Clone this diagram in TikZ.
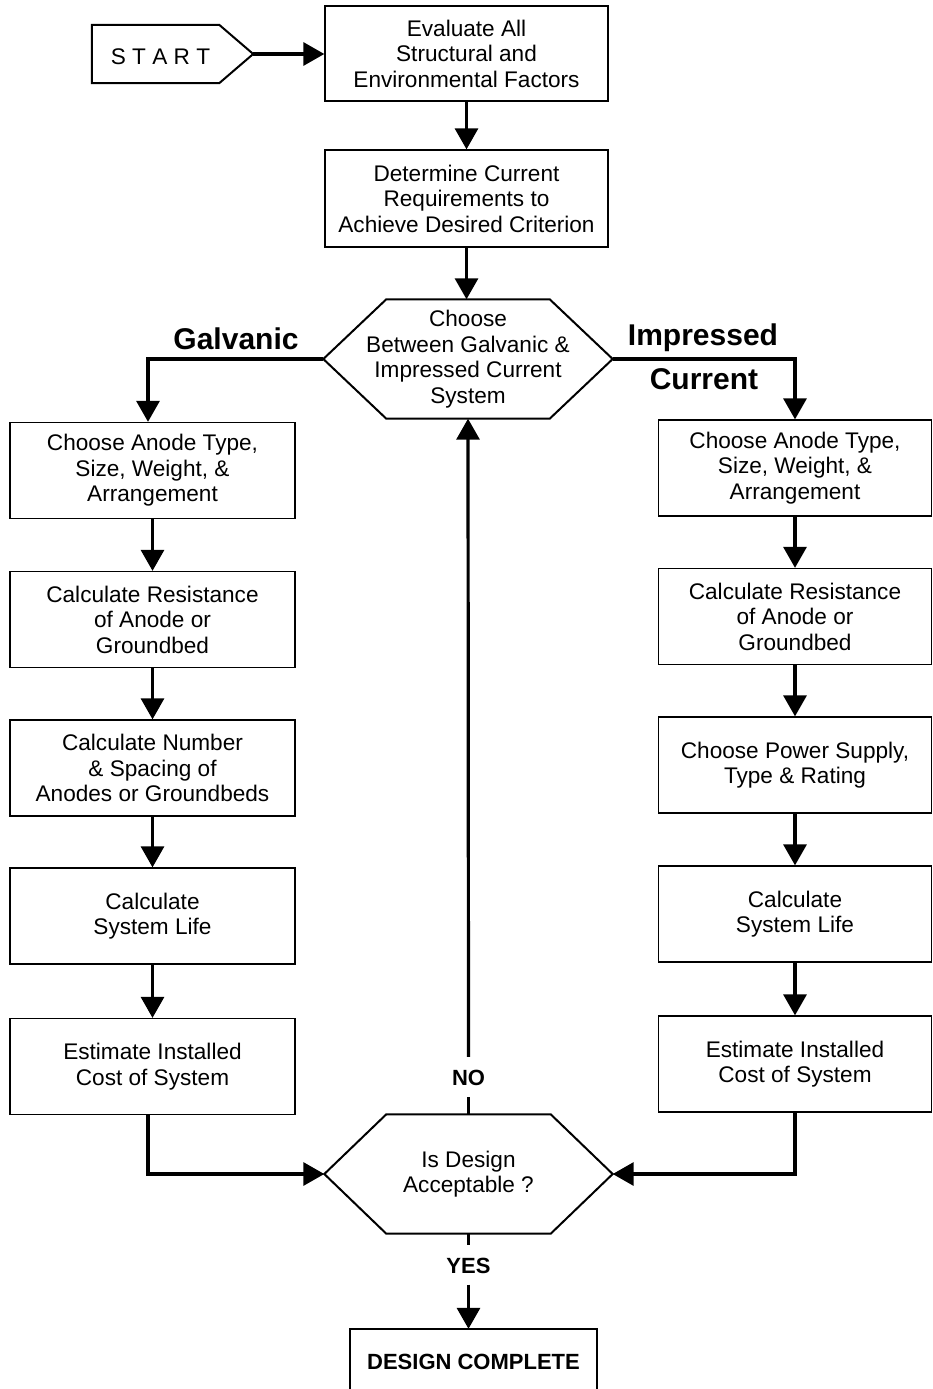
\documentclass[tikz,border=0pt]{standalone}
\usepackage{fontspec}
\setmainfont{Liberation Sans}
\usetikzlibrary{arrows.meta,calc}
\begin{document}
\begin{tikzpicture}[x=1pt,y=-1pt,
  txt/.style={font=\fontsize{22.6}{25.5}\selectfont},
  box/.style={txt,draw,line width=1.3pt,rectangle,inner sep=0pt,align=center},
  topbox/.style={box,minimum width=283pt},
  lbox/.style={box,minimum width=285pt,minimum height=96pt},
  rbox/.style={box,minimum width=273pt,minimum height=96pt},
  hexnode/.style={txt,rectangle,inner sep=0pt,minimum width=289pt,minimum height=119pt,align=center},
  shapeline/.style={line width=2pt,line join=miter},
  conn/.style={line width=3.2pt},
  arr/.style={conn,-{Triangle[length=21pt,width=23pt]}},
  lbl/.style={font=\fontsize{30}{34}\bfseries\selectfont,inner sep=0pt,anchor=base},
  yn/.style={font=\fontsize{22}{25}\bfseries\selectfont,text height=16pt,text depth=0pt,inner xsep=0pt,inner ysep=12pt,anchor=base}
]
\useasboundingbox (0,0) rectangle (933,1389);
\coordinate (bottom) at (0,1389);
\coordinate (gx) at (148,0);

% START
\node (start) [rectangle,inner sep=0pt,minimum width=161pt,minimum height=58pt] at (172.5,54) {};
\draw[shapeline] (start.north west) -- ($(start.north east)+(-34,0)$) -- (start.east)
  -- ($(start.south east)+(-34,0)$) -- (start.south west) -- cycle;
\node (starttxt) [txt,inner sep=0pt,anchor=base] at (160.5,64) {S T A R T};

% top boxes
\node (b1) [topbox,minimum height=95pt] at (466.5,53.5) {Evaluate All\\Structural and\\Environmental Factors};
\node (b2) [topbox,minimum height=97pt] at (466.5,198.5) {Determine Current\\Requirements to\\Achieve Desired Criterion};

% hexagon 1
\node (h1) [hexnode] at (468,359) {Choose\\Between Galvanic \&\\Impressed Current\\System};
\draw[shapeline] (h1.west) -- ($(h1.north west)+(63,0)$) -- ($(h1.north east)+(-63,0)$) -- (h1.east)
  -- ($(h1.south east)+(-63,0)$) -- ($(h1.south west)+(63,0)$) -- cycle;

% labels
\node (galv) [lbl] at (236,349) {Galvanic};
\node (imp) [lbl] at (703,345) {Impressed};
\node (cur) [lbl] at (704,389) {Current};

% left column
\node (L1) [lbox] at (152.5,470.5) {Choose Anode Type,\\Size, Weight, \&\\Arrangement};
\node (L2) [lbox] at (152.5,619.5) {Calculate Resistance\\of Anode or\\Groundbed};
\node (L3) [lbox] at (152.5,768) {Calculate Number\\\& Spacing of\\Anodes or Groundbeds};
\node (L4) [lbox] at (152.5,916) {Calculate\\System Life};
\node (L5) [lbox] at (152.5,1066.5) {Estimate Installed\\Cost of System};

% right column
\node (R1) [rbox] at (795,468) {Choose Anode Type,\\Size, Weight, \&\\Arrangement};
\node (R2) [rbox] at (795,616.5) {Calculate Resistance\\of Anode or\\Groundbed};
\node (R3) [rbox] at (795,765) {Choose Power Supply,\\Type \& Rating};
\node (R4) [rbox] at (795,914) {Calculate\\System Life};
\node (R5) [rbox] at (795,1064) {Estimate Installed\\Cost of System};

% hexagon 2
\node (h2) [hexnode,minimum width=288pt] at (468.5,1174) {Is Design\\Acceptable ?};
\draw[shapeline] (h2.west) -- ($(h2.north west)+(62,0)$) -- ($(h2.north east)+(-62,0)$) -- (h2.east)
  -- ($(h2.south east)+(-62,0)$) -- ($(h2.south west)+(62,0)$) -- cycle;

% NO / YES
\node (no) [yn] at (468.5,1085) {NO};
\node (yes) [yn,inner ysep=11.5pt] at (468.5,1273) {YES};

% design complete
\node (design) [rectangle,inner sep=0pt,minimum width=247pt,minimum height=66pt,
  font=\fontsize{22}{25}\bfseries\selectfont] at (473.5,1362) {DESIGN COMPLETE};
\draw[shapeline] (design.north west |- bottom) -- (design.north west) -- (design.north east) -- (design.north east |- bottom);

% connectors
\draw[arr] (start.east) -- (start.east -| b1.west);
\draw[arr] (b1.south) -- (b2.north);
\draw[arr] (b2.south) -- (b2.south |- h1.north);
\draw[arr] (h1.west) -| (L1.north -| gx);
\draw[arr] (h1.east) -| (R1.north);
\draw[arr] (L1.south) -- (L2.north);
\draw[arr] (L2.south) -- (L3.north);
\draw[arr] (L3.south) -- (L4.north);
\draw[arr] (L4.south) -- (L5.north);
\draw[arr] (R1.south) -- (R2.north);
\draw[arr] (R2.south) -- (R3.north);
\draw[arr] (R3.south) -- (R4.north);
\draw[arr] (R4.south) -- (R5.north);
\draw[arr] (L5.south -| gx) |- (h2.west);
\draw[arr] (R5.south) |- (h2.east);
\draw[conn] (h2.north) -- (no.south);
\draw[arr] (no.north) -- (h1.south);
\draw[conn] (h2.south) -- (yes.north);
\draw[arr] (yes.south) -- (yes.south |- design.north);
\end{tikzpicture}
\end{document}
